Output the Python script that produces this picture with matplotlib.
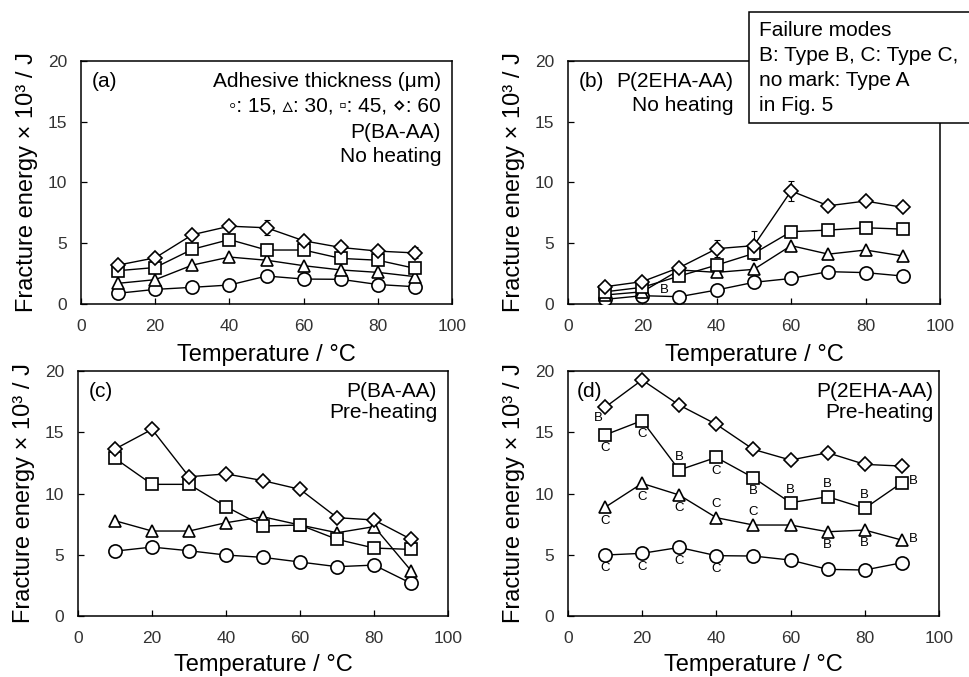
import matplotlib
matplotlib.use("Agg")
import matplotlib.pyplot as plt
from matplotlib.patches import Rectangle

plt.rcParams['font.family'] = ['Liberation Sans', 'DejaVu Sans']

temp = [10, 20, 30, 40, 50, 60, 70, 80, 90]

# (a) P(BA-AA), no heating
a_15 = [0.88, 1.2, 1.37, 1.56, 2.3, 2.05, 2.03, 1.6, 1.42]
a_30 = [1.7, 2.0, 3.2, 3.86, 3.6, 3.15, 2.8, 2.6, 2.25]
a_45 = [2.74, 3.0, 4.5, 5.3, 4.44, 4.44, 3.75, 3.6, 2.93]
a_60 = [3.2, 3.8, 5.7, 6.4, 6.27, 5.2, 4.65, 4.35, 4.2]
a_60_err = [0, 0, 0, 0, 0.6, 0.3, 0, 0, 0.45]

# (b) P(2EHA-AA), no heating
b_15 = [0.38, 0.68, 0.6, 1.15, 1.78, 2.1, 2.66, 2.58, 2.3]
b_30 = [0.74, 1.0, 2.8, 2.6, 2.85, 4.8, 4.1, 4.44, 3.95]
b_45 = [1.0, 1.37, 2.3, 3.2, 4.16, 5.95, 6.08, 6.27, 6.16]
b_60 = [1.42, 1.84, 3.0, 4.55, 4.8, 9.3, 8.08, 8.47, 7.95]
b_60_err = [0, 0, 0.3, 0.7, 1.2, 0.8, 0, 0, 0]

# (c) P(BA-AA), pre-heating
c_15 = [5.3, 5.63, 5.33, 4.98, 4.79, 4.41, 4.03, 4.16, 2.67]
c_30 = [7.78, 6.94, 6.94, 7.62, 8.1, 7.43, 6.8, 7.3, 3.7]
c_45 = [12.87, 10.75, 10.75, 8.93, 7.35, 7.43, 6.26, 5.55, 5.44]
c_60 = [13.63, 15.24, 11.37, 11.6, 11.05, 10.34, 8.03, 7.84, 6.26]

# (d) P(2EHA-AA), pre-heating
d_15 = [4.98, 5.12, 5.6, 4.93, 4.9, 4.57, 3.81, 3.76, 4.35]
d_30 = [8.87, 10.83, 9.88, 8.03, 7.43, 7.43, 6.88, 7.02, 6.2]
d_45 = [14.78, 15.95, 11.92, 12.95, 11.29, 9.25, 9.74, 8.79, 10.88]
d_60 = [17.03, 19.27, 17.22, 15.65, 13.6, 12.73, 13.33, 12.38, 12.24]

# failure mode marks in (d): series, point index, mark, placement
d_marks = [
    ('60', 0, 'B', 'bl'),
    ('45', 0, 'C', 'below'), ('45', 1, 'C', 'below'), ('45', 2, 'B', 'above'),
    ('45', 3, 'C', 'below'), ('45', 4, 'B', 'below'), ('45', 5, 'B', 'above'),
    ('45', 6, 'B', 'above'), ('45', 7, 'B', 'above'), ('45', 8, 'B', 'right'),
    ('30', 0, 'C', 'below'), ('30', 1, 'C', 'below'), ('30', 2, 'C', 'below'),
    ('30', 3, 'C', 'above'), ('30', 4, 'C', 'above'), ('30', 6, 'B', 'below'),
    ('30', 7, 'B', 'below'), ('30', 8, 'B', 'right'),
    ('15', 0, 'C', 'below'), ('15', 1, 'C', 'below'), ('15', 2, 'C', 'below'),
    ('15', 3, 'C', 'below'),
]
offsets = {'below': (0, -9.5), 'above': (0, 9.5), 'right': (8, 1), 'bl': (-5, -7.5)}

fig = plt.figure(figsize=(9.69, 6.77), dpi=100)
ax_a = fig.add_axes([0.0836, 0.551, 0.383, 0.359])
ax_b = fig.add_axes([0.586, 0.551, 0.384, 0.359])
ax_c = fig.add_axes([0.0805, 0.090, 0.382, 0.362])
ax_d = fig.add_axes([0.586, 0.090, 0.383, 0.362])

mk = dict(color='black', mfc='white', mec='black', lw=1.0, mew=1.2)


def draw(ax, s15, s30, s45, s60, e60=None, xlab_y=-0.165):
    ax.plot(temp, s15, marker='o', ms=9.5, zorder=3, **mk)
    ax.plot(temp, s30, marker='^', ms=9, zorder=3, **mk)
    ax.plot(temp, s45, marker='s', ms=9, zorder=3, **mk)
    if e60 is not None:
        ax.errorbar(temp, s60, yerr=e60, fmt='none', ecolor='black',
                    elinewidth=0.8, capsize=2.5, capthick=0.8, zorder=2)
    ax.plot(temp, s60, marker='D', ms=7, zorder=4, **mk)
    ax.set_xlim(0, 100)
    ax.set_ylim(0, 20)
    ax.set_xticks([0, 20, 40, 60, 80, 100])
    ax.set_yticks([0, 5, 10, 15, 20])
    ax.tick_params(direction='in', length=4, width=0.9, labelsize=12.5,
                   labelcolor='#333333')
    ax.tick_params(axis='x', pad=11)
    ax.tick_params(axis='y', pad=10)
    for sp in ax.spines.values():
        sp.set_linewidth(1.1)
    ax.set_xlabel('Temperature / °C', fontsize=17)
    ax.set_ylabel('Fracture energy × 10³ / J', fontsize=17)
    ax.xaxis.set_label_coords(0.5, xlab_y)
    ax.yaxis.set_label_coords(-0.115, 0.5)


draw(ax_a, a_15, a_30, a_45, a_60, a_60_err)
draw(ax_b, b_15, b_30, b_45, b_60, b_60_err)
draw(ax_c, c_15, c_30, c_45, c_60, xlab_y=-0.155)
draw(ax_d, d_15, d_30, d_45, d_60, xlab_y=-0.155)

fs = 15
ax_a.text(2.8, 18.3, '(a)', fontsize=fs, va='center')
ax_a.text(97, 18.27, 'Adhesive thickness (μm)', fontsize=fs, ha='right', va='center')
ax_a.text(97, 16.27, '◦: 15, ▵: 30, ▫: 45, ⋄: 60', fontsize=fs, ha='right', va='center')
ax_a.text(97, 14.15, 'P(BA-AA)', fontsize=fs, ha='right', va='center')
ax_a.text(97, 12.1, 'No heating', fontsize=fs, ha='right', va='center')

ax_b.text(2.8, 18.3, '(b)', fontsize=fs, va='center')
ax_b.text(44.5, 18.3, 'P(2EHA-AA)', fontsize=fs, ha='right', va='center')
ax_b.text(44.5, 16.3, 'No heating', fontsize=fs, ha='right', va='center')
ax_b.annotate('B', (temp[1], b_15[1]), xytext=(16, 4), textcoords='offset points',
              fontsize=9.5, ha='center', va='center')

ax_c.text(2.8, 18.3, '(c)', fontsize=fs, va='center')
ax_c.text(97, 18.3, 'P(BA-AA)', fontsize=fs, ha='right', va='center')
ax_c.text(97, 16.6, 'Pre-heating', fontsize=fs, ha='right', va='center')

ax_d.text(2.5, 18.3, '(d)', fontsize=fs, va='center')
ax_d.text(98.5, 18.3, 'P(2EHA-AA)', fontsize=fs, ha='right', va='center')
ax_d.text(98.5, 16.6, 'Pre-heating', fontsize=fs, ha='right', va='center')
d_series = {'15': d_15, '30': d_30, '45': d_45, '60': d_60}
for key, i, m, where in d_marks:
    ax_d.annotate(m, (temp[i], d_series[key][i]), xytext=offsets[where],
                  textcoords='offset points', fontsize=9.5, ha='center', va='center')

# failure mode note box, running off the right edge
fig.add_artist(Rectangle((749 / 969, 1 - 123 / 677), 0.3, 111 / 677,
                         transform=fig.transFigure, facecolor='white',
                         edgecolor='black', lw=1.1, zorder=10))
note = ['Failure modes', 'B: Type B, C: Type C,', 'no mark: Type A', 'in Fig. 5']
for k, line in enumerate(note):
    fig.text(759 / 969, 1 - (30 + 25.3 * k) / 677, line, fontsize=15,
             va='center', ha='left', zorder=11)

fig.savefig('out.png', dpi=100)
